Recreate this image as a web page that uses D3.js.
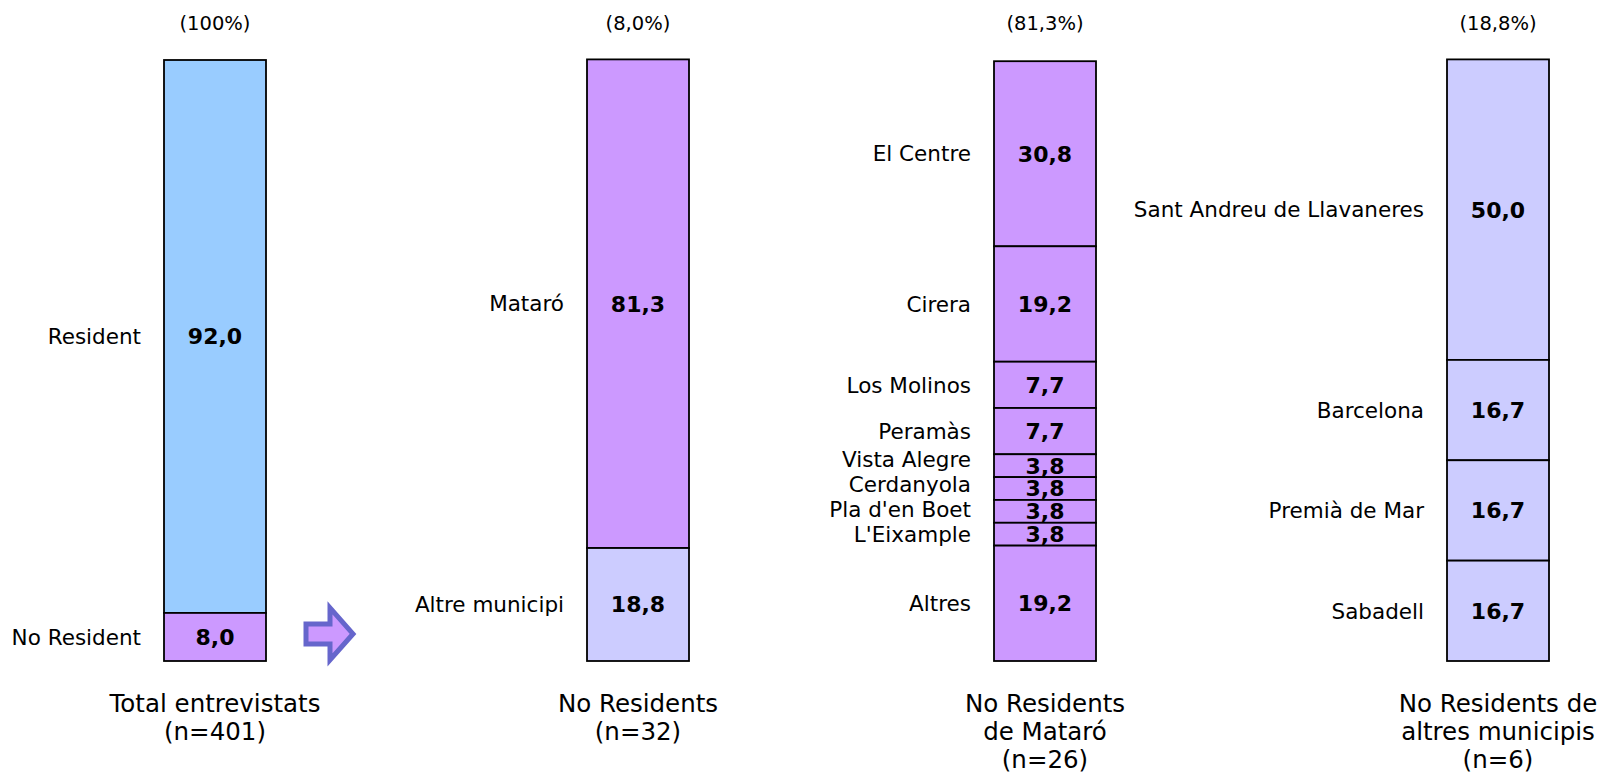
<!DOCTYPE html>
<html>
<head>
<meta charset="utf-8">
<script src="https://cdn.jsdelivr.net/npm/d3@7"></script>
<style>
  body { margin: 0; background: #fff; }
  svg text { font-family: "DejaVu Sans", Verdana, sans-serif; fill: #000; }
</style>
</head>
<body>
<svg width="1599" height="774"></svg>
<script>
// data
var headers = ["(100%)", "(8,0%)", "(81,3%)", "(18,8%)"];
var titles = [
    ["Total entrevistats", "(n=401)"],
    ["No Residents", "(n=32)"],
    ["No Residents", "de Mataró", "(n=26)"],
    ["No Residents de", "altres municipis", "(n=6)"]
];

var totalCats = ["Resident", "No Resident"];
var totalVals = [92.0, 8.0];

var noResCats = ["Mataró", "Altre municipi"];
var noResVals = [81.3, 18.8];

var mataroCats = ["El Centre", "Cirera", "Los Molinos", "Peramàs", "Vista Alegre",
                  "Cerdanyola", "Pla d'en Boet", "L'Eixample", "Altres"];
var mataroVals = [30.8, 19.2, 7.7, 7.7, 3.8, 3.8, 3.8, 3.8, 19.2];

var altresCats = ["Sant Andreu de Llavaneres", "Barcelona", "Premià de Mar", "Sabadell"];
var altresVals = [50.0, 16.7, 16.7, 16.7];

// colours
var blue = "#99CCFF", purple = "#CC99FF", lilac = "#CCCCFF";
var colColours = [[blue, purple], [purple, lilac], [purple], [lilac]];

var columns = [
    { cats: totalCats, vals: totalVals },
    { cats: noResCats, vals: noResVals },
    { cats: mataroCats, vals: mataroVals },
    { cats: altresCats, vals: altresVals }
];

var svg = d3.select("svg"),
    width = +svg.attr("width"),
    height = +svg.attr("height");

var fmt = d3.formatLocale({ decimal: ",", thousands: ".", grouping: [3], currency: ["", ""] }).format(".1f");

// layout
var barW = 102;
var x = d3.scaleOrdinal()
    .domain([0, 1, 2, 3])
    .range([164, 587, 994, 1447]);   // left edge of each bar

var y = d3.scaleLinear()
    .domain([0, 100])
    .range([661, 60]);

columns.forEach(function(col, ci) {
    var g = svg.append("g");
    var x0 = x(ci), cx = x0 + barW / 2;

    // stack from the bottom, first category on top
    var segs = [];
    var acc = 0;
    for (var i = col.vals.length - 1; i >= 0; i--) {
        segs.unshift({ cat: col.cats[i], val: col.vals[i], y0: acc, y1: acc + col.vals[i], i: i });
        acc += col.vals[i];
    }

    g.selectAll("rect")
        .data(segs)
        .enter()
        .append("rect")
            .attr("x", x0)
            .attr("width", barW)
            .attr("y", d => y(d.y1))
            .attr("height", d => y(d.y0) - y(d.y1))
            .style("fill", d => colColours[ci][Math.min(d.i, colColours[ci].length - 1)])
            .style("stroke", "#000")
            .style("stroke-width", 1.8);

    // value labels
    g.selectAll("text.val")
        .data(segs)
        .enter()
        .append("text")
            .attr("class", "val")
            .attr("x", cx)
            .attr("y", d => (y(d.y0) + y(d.y1)) / 2)
            .attr("dy", "0.36em")
            .attr("text-anchor", "middle")
            .style("font-weight", "bold")
            .style("font-size", "22px")
            .text(d => fmt(d.val));

    // category labels, pushed up when they would overlap
    var ly = segs.map(d => (y(d.y0) + y(d.y1)) / 2);
    for (var k = ly.length - 2; k >= 0; k--) {
        if (ly[k + 1] - ly[k] < 25) ly[k] = ly[k + 1] - 25;
    }
    g.selectAll("text.cat")
        .data(segs)
        .enter()
        .append("text")
            .attr("class", "cat")
            .attr("x", x0 - 23)
            .attr("y", (d, i) => ly[i])
            .attr("dy", "0.36em")
            .attr("text-anchor", "end")
            .style("font-size", "21.5px")
            .text(d => d.cat);

    // header
    g.append("text")
        .attr("x", cx)
        .attr("y", 23)
        .attr("dy", "0.36em")
        .attr("text-anchor", "middle")
        .style("font-size", "19.5px")
        .text(headers[ci]);

    // title under the bar
    g.selectAll("text.title")
        .data(titles[ci])
        .enter()
        .append("text")
            .attr("class", "title")
            .attr("x", cx)
            .attr("y", (d, i) => 703 + i * 28)
            .attr("dy", "0.36em")
            .attr("text-anchor", "middle")
            .style("font-size", "24.5px")
            .text(d => d);
});

// arrow next to the No Resident segment
var ay = (y(0) + y(totalVals[1])) / 2 - 3,
    ax = x(0) + barW + 40;
var arrow = [
    [ax, ay - 10], [ax + 24, ay - 10], [ax + 24, ay - 26],
    [ax + 47, ay], [ax + 24, ay + 26], [ax + 24, ay + 10], [ax, ay + 10]
];
svg.append("path")
    .attr("d", d3.line()(arrow) + "Z")
    .style("fill", purple)
    .style("stroke", "#6666CC")
    .style("stroke-width", 5)
    .style("stroke-linejoin", "miter");
</script>
</body>
</html>
